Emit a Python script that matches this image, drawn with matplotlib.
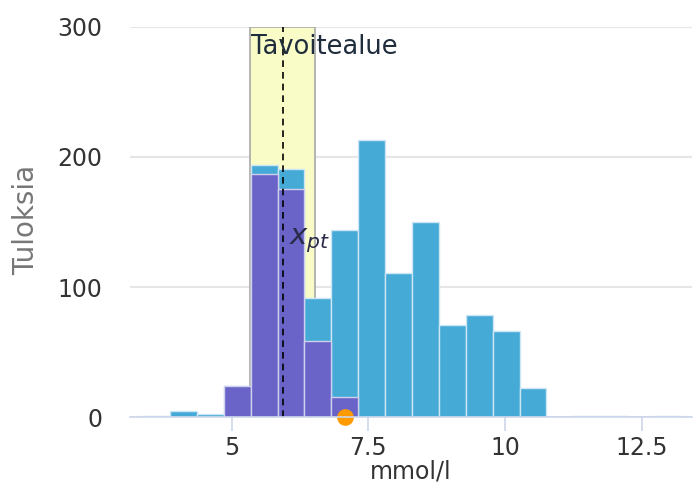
import numpy as np
import matplotlib
matplotlib.use("Agg")
import matplotlib.pyplot as plt

# histogram bins (mmol/l), width ~0.49
bin_start = 3.378
bin_width = 0.492
all_counts = [1, 5, 3, 24, 194, 191, 92, 144, 213, 111, 150, 71, 79, 66, 23, 0, 1, 1, 0, 1]
own_counts = [0, 0, 0, 24, 187, 175, 59, 16, 0, 0, 0, 0, 0, 0, 0, 0, 0, 0, 0, 0]

x_pt = 5.94
target_low = 5.34
target_high = 6.53
own_result = 7.08

y_ticks = [0, 100, 200, 300]
x_ticks = [5, 7.5, 10, 12.5]
x_tick_labels = ["5", "7.5", "10", "12.5"]

plt.rcParams['font.family'] = ['DejaVu Sans']

fig = plt.figure(figsize=(6.93, 4.91), dpi=100)
ax = fig.add_axes([0.1876, 0.1497, 0.8110, 0.7963])

lefts = bin_start + bin_width * np.arange(len(all_counts))

ax.axvspan(target_low, target_high, facecolor="#fafcc8", edgecolor="#a8a8a8", linewidth=1.2, zorder=1)

ax.bar(lefts, all_counts, width=bin_width, align="edge", color="#45aad6",
       edgecolor="#cce6f3", linewidth=1, zorder=2)
ax.bar(lefts, own_counts, width=bin_width, align="edge", color="#6a64c8",
       edgecolor="#cfd0ee", linewidth=1, zorder=3)

ax.axvline(x_pt, color="black", linestyle=(0, (4, 3)), linewidth=1.2, zorder=4)
ax.text(target_low + 0.02, 284, "Tavoitealue", fontsize=18.5, color="#1f2d3d",
        ha="left", va="center", zorder=5)
ax.text(x_pt + 0.1, 136, r"$x_{pt}$", fontsize=21, color="#2a2a4a",
        ha="left", va="center", zorder=5)

ax.plot([own_result], [0], "o", color="#ff9a00", markersize=11, clip_on=False, zorder=6)

ax.set_xlim(3.14, 13.42)
ax.set_ylim(0, 300)
ax.set_yticks(y_ticks)
ax.set_xticks(x_ticks)
ax.set_xticklabels(x_tick_labels)
ax.grid(axis="y", color="#e6e6e6", linewidth=1.5, zorder=0)
ax.set_axisbelow(True)

for side in ["top", "right", "left"]:
    ax.spines[side].set_visible(False)
ax.spines["bottom"].set_color("#ccd6eb")
ax.spines["bottom"].set_linewidth(1.2)
ax.spines["bottom"].set_zorder(7)

ax.tick_params(axis="y", length=0, pad=20, labelsize=17, labelcolor="#333333")
ax.tick_params(axis="x", length=10, width=1.2, color="#ccd6eb", pad=3, labelsize=17, labelcolor="#333333")

ax.set_xlabel("mmol/l", fontsize=17, color="#333333", labelpad=0)
ax.set_ylabel("Tuloksia", fontsize=20, color="#777777")
ax.yaxis.set_label_coords(-0.16, 0.505)

plt.savefig("out.png", dpi=100)
